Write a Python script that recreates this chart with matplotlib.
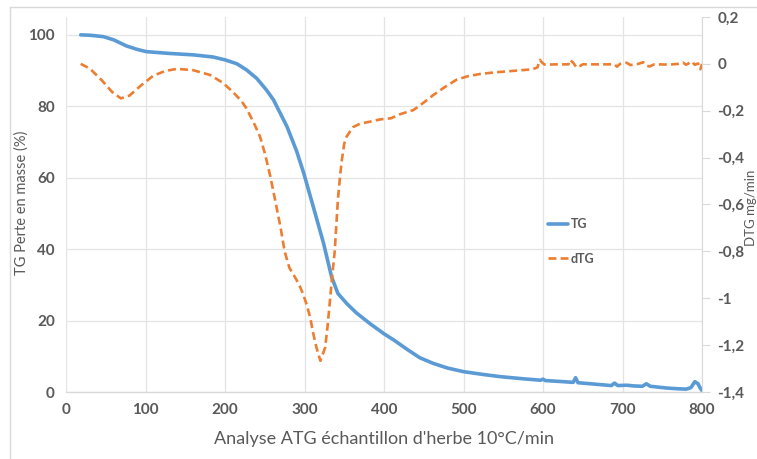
import numpy as np
import matplotlib
matplotlib.use("Agg")
import matplotlib.pyplot as plt
from matplotlib.lines import Line2D

plt.rcParams['font.family'] = ['Lato', 'DejaVu Sans']

# TG curve (mass %, left axis)
tg_temp = [18.5, 30, 47, 60, 76, 90, 101, 130, 160, 185, 200, 215, 227, 240, 252,
           261, 273, 278, 290, 299, 311, 324, 334, 342, 353, 365, 382, 400, 412,
           430, 445, 462, 480, 500, 525, 546, 575, 597, 600, 603, 625, 638, 641,
           644, 665, 686, 690, 694, 705, 714, 725, 730, 735, 756, 770, 780, 786,
           791, 795, 798, 800]
tg_mass = [100.0, 99.9, 99.5, 98.6, 96.9, 95.9, 95.3, 94.8, 94.4, 93.8, 93.0, 91.9,
           90.2, 87.8, 84.6, 81.8, 76.5, 74.3, 67.5, 61.3, 51.9, 41.6, 32.3, 27.6,
           24.8, 22.2, 19.2, 16.3, 14.6, 11.8, 9.6, 8.0, 6.7, 5.7, 4.9, 4.3, 3.7,
           3.3, 3.6, 3.2, 2.9, 2.7, 4.0, 2.6, 2.2, 1.8, 2.5, 1.8, 1.9, 1.7, 1.6,
           2.3, 1.6, 1.1, 0.9, 0.8, 1.2, 2.9, 2.3, 1.0, 0.4]

# dTG curve (mg/min, right axis)
dtg_temp = [18.5, 30, 45, 58, 69, 80, 95, 110, 125, 140, 160, 181, 197, 210, 221,
            227, 236, 244, 250, 257, 263, 270, 275, 281, 288, 293, 298, 303, 307,
            311, 315, 320, 326, 329, 332, 335, 338, 342, 345, 347, 350, 353, 361,
            370, 382, 395, 409, 420, 437, 450, 462, 476, 491, 505, 521, 540, 562,
            587, 593, 596, 599, 602, 620, 632, 634, 638, 642, 646, 650, 690, 693,
            697, 705, 710, 720, 726, 731, 734, 740, 760, 770, 776, 780, 787, 791,
            795, 798, 800]
dtg_val = [0.0, -0.02, -0.07, -0.12, -0.147, -0.135, -0.09, -0.05, -0.03, -0.021,
           -0.027, -0.047, -0.08, -0.12, -0.16, -0.19, -0.25, -0.31, -0.38, -0.48,
           -0.58, -0.70, -0.80, -0.87, -0.91, -0.94, -0.98, -1.03, -1.08, -1.15,
           -1.21, -1.267, -1.21, -1.12, -1.01, -0.90, -0.80, -0.58, -0.47, -0.41,
           -0.34, -0.31, -0.27, -0.255, -0.247, -0.237, -0.232, -0.215, -0.197,
           -0.165, -0.133, -0.10, -0.068, -0.053, -0.043, -0.036, -0.030, -0.023,
           -0.015, 0.017, 0.005, -0.003, -0.002, -0.002, 0.017, 0.005, -0.015,
           -0.01, -0.002, -0.002, -0.012, 0.0, 0.005, -0.005, 0.0, 0.007, -0.008,
           -0.011, -0.002, -0.003, 0.0, 0.006, -0.004, 0.01, -0.004, 0.002,
           -0.023, 0.0]

x_ticks = [0, 100, 200, 300, 400, 500, 600, 700, 800]
left_ticks = [0, 20, 40, 60, 80, 100]
right_ticks = [0.2, 0, -0.2, -0.4, -0.6, -0.8, -1, -1.2, -1.4]
right_labels = ['0,2', '0', '-0,2', '-0,4', '-0,6', '-0,8', '-1', '-1,2', '-1,4']

W, H = 757, 459
grey = '#595959'
grid = '#e4e4e4'

fig = plt.figure(figsize=(W / 100, H / 100), dpi=100)
ax = fig.add_axes([66 / W, 67 / H, 636 / W, 375 / H])

ax.plot(tg_temp, tg_mass, color='#5B9BD5', lw=2.6, label='TG', solid_capstyle='round')
ax.set_xlim(0, 800)
ax.set_ylim(0, 105)
ax.set_xticks(x_ticks)
ax.set_yticks(left_ticks)
ax.grid(True, color=grid, lw=0.9)
ax.set_axisbelow(True)
for s in ['top', 'left', 'right']:
    ax.spines[s].set_visible(False)
ax.spines['bottom'].set_color('#d9d9d9')
ax.spines['bottom'].set_linewidth(1.0)
ax.tick_params(length=0, pad=8, labelcolor=grey)
for lab in ax.get_xticklabels() + ax.get_yticklabels():
    lab.set_fontsize(11)
    lab.set_fontweight('bold')
ax.set_xlabel("Analyse ATG échantillon d'herbe 10°C/min", fontsize=13, color=grey, labelpad=10)
ax.set_ylabel('TG Perte en masse (%)', fontsize=10.5, color=grey)
ax.yaxis.set_label_coords((29 - 66) / 636, (392 - 203) / 375)

ax2 = ax.twinx()
ax2.plot(dtg_temp, dtg_val, color='#ED7D31', lw=1.9, dashes=(3, 1.6), label='dTG')
ax2.set_ylim(-1.4, 0.2)
ax2.set_yticks(right_ticks)
ax2.set_yticklabels(right_labels)
for s in ['top', 'left', 'bottom']:
    ax2.spines[s].set_visible(False)
ax2.spines['right'].set_color('#d9d9d9')
ax2.tick_params(axis='y', length=6, color='#d9d9d9', pad=5, labelcolor=grey)
for lab in ax2.get_yticklabels():
    lab.set_fontsize(11)
    lab.set_fontweight('bold')

fig.text(751 / W, 1 - 208 / H, 'DTG mg/min', rotation=90, fontsize=9.5, color=grey,
         ha='center', va='center')

h1, l1 = ax.get_legend_handles_labels()
h2, l2 = ax2.get_legend_handles_labels()
ax2.legend(h1 + h2, l1 + l2, loc='upper left', bbox_to_anchor=(537 / W, 1 - 207 / H),
           bbox_transform=fig.transFigure, frameon=False, handlelength=1.6,
           handletextpad=0.2, labelspacing=1.8,
           prop={'size': 9, 'weight': 'bold'}, labelcolor=grey)

# outer chart border
fig.add_artist(Line2D([10 / W, 10 / W], [0, 1 - 7 / H], color='#d9d9d9', lw=1.0))
fig.add_artist(Line2D([10 / W, 1], [1 - 7 / H, 1 - 7 / H], color='#d9d9d9', lw=1.0))

fig.savefig('out.png', dpi=100)
